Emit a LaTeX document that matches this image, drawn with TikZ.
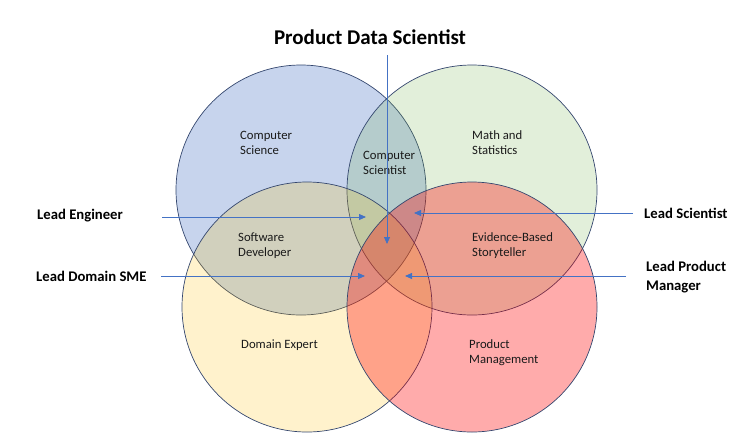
\documentclass[tikz,border=0pt]{standalone}
\usepackage{fontspec}
\setmainfont{Carlito}
\usetikzlibrary{arrows.meta}
\definecolor{csblue}{HTML}{4472C4}
\definecolor{msgreen}{HTML}{70AD47}
\definecolor{deyellow}{HTML}{FFC000}
\definecolor{pmred}{HTML}{FF0000}
\definecolor{ringline}{HTML}{34466E}
\definecolor{arrowblue}{HTML}{4472C4}
\definecolor{textgray}{HTML}{1A1A1A}
\tikzset{venn/.style={circle, draw=ringline, line width=0.7pt, minimum size=250pt, inner sep=0pt},
area/.style={anchor=west, align=left, inner sep=0pt, text=textgray, font=\fontsize{12.7}{15}\selectfont},
lead/.style={anchor=west, align=left, inner sep=0pt, font=\bfseries\fontsize{14.7}{19}\selectfont},
pointer/.style={draw=arrowblue, line width=0.8pt, -{Triangle[width=6pt,length=7pt]}}}

\begin{document}
\begin{tikzpicture}[x=1pt,y=-1pt]
        \useasboundingbox (0,0) rectangle (754,445);
        % the four fields
        \node[venn, fill=csblue, fill opacity=0.3] (cs) at (301, 190) {};
        \node[venn, fill=msgreen, fill opacity=0.2] (ms) at (472, 190) {};
        \node[venn, fill=deyellow, fill opacity=0.2] (de) at (307, 307) {};
        \node[venn, fill=pmred, fill opacity=0.33] (pm) at (472, 307) {};
        
        % labels inside
        \node[area] (csl) at (240, 142.5) {Computer\\Science};
        \node[area] (cst) at (363, 162.5) {Computer\\Scientist};
        \node[area] (msl) at (472, 142.5) {Math and\\Statistics};
        \node[area] (swd) at (238, 245.5) {Software\\Developer};
        \node[area] (ebs) at (472, 246) {Evidence-Based\\Storyteller};
        \node[area] (del) at (241, 345) {Domain Expert};
        \node[area] (pml) at (469, 352.5) {Product\\Management};
        
        % roles
        \node[font=\bfseries\fontsize{21}{25}\selectfont, inner sep=0pt] (pds) at (370, 37) {Product Data Scientist};
        \node[lead] (eng) at (37, 216) {Lead Engineer};
        \node[lead] (sme) at (36, 276) {Lead Domain SME};
        \node[lead] (sci) at (644, 213) {Lead Scientist};
        \node[lead] (prm) at (646, 277.5) {Lead Product\\Manager};
        
        \coordinate (pds0) at (387, 55);   \coordinate (pds1) at (387, 244);
        \coordinate (eng0) at (162, 217);  \coordinate (eng1) at (366, 217);
        \coordinate (sme0) at (161, 276);  \coordinate (sme1) at (365, 276);
        \coordinate (sci0) at (633, 213);  \coordinate (sci1) at (414, 213);
        \coordinate (prm0) at (626, 276);  \coordinate (prm1) at (405, 276);
        
        \draw[pointer] (pds0) -- (pds1);
        \draw[pointer] (eng0) -- (eng1);
        \draw[pointer] (sme0) -- (sme1);
        \draw[pointer] (sci0) -- (sci1);
        \draw[pointer] (prm0) -- (prm1);
\end{tikzpicture}
\end{document}
